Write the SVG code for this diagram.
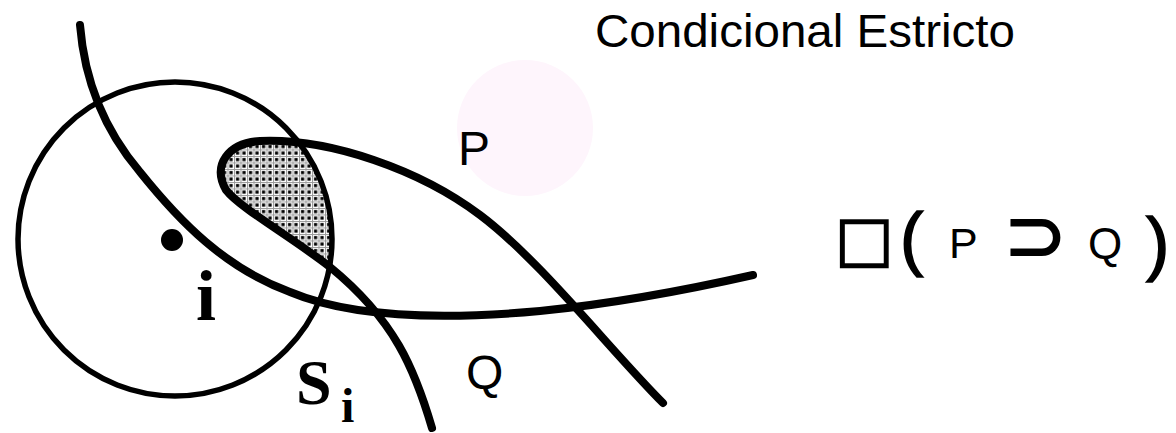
<svg xmlns="http://www.w3.org/2000/svg" width="1176" height="433" viewBox="0 0 1176 433">
<style>
.ln{fill:none;stroke:#000;stroke-linecap:round;stroke-linejoin:round}
.sans{font-family:"Liberation Sans",Arial,sans-serif;fill:#000}
.serif{font-family:"Liberation Serif","Times New Roman",serif;font-weight:bold;fill:#000}
.sym{font-family:"DejaVu Sans",sans-serif;fill:#000}
</style>
<defs>
<pattern id="dots" patternUnits="userSpaceOnUse" width="6.5" height="6.5">
<rect width="6.5" height="6.5" fill="#fff"/>
<path d="M0 0.5H6.5M0.5 0V6.5" stroke="#999" stroke-width="1"/>
<rect x="2" y="2" width="3.2" height="3.2" fill="#000"/>
</pattern>
<clipPath id="circClip"><circle cx="175" cy="239" r="157"/></clipPath>
</defs>
<rect width="1176" height="433" fill="#fff"/>
<circle id="pinkSpot" cx="525" cy="128" r="68" fill="#fef5fc"/>
<g id="shaded" clip-path="url(#circClip)">
<path d="M330 267C290 236 240 208 226 190C212 165 228 143 260 141C330 138 420 170 480 215L480 267Z" fill="url(#dots)"/>
</g>
<g id="connectors">
<circle id="circleS" cx="175" cy="239" r="157" class="ln" stroke-width="5.5"/>
<path id="curveA" class="ln" stroke-width="8" d="M80 25C84 75 100 125 140 172C180 222 225 268 290 292C340 313 420 322 540 311C620 303 700 287 753 275"/>
<path id="curveB" class="ln" stroke-width="8" d="M432 428C415 370 395 320 330 267C290 236 240 208 226 190C212 165 228 143 260 141C330 138 420 170 480 215C540 260 610 350 663 403"/>
</g>
<g id="point-i">
<circle cx="172" cy="240" r="11" fill="#000"/>
<text class="serif" x="196" y="320" font-size="72">i</text>
</g>
<g id="label-S">
<text class="serif" x="296" y="404" font-size="64">S</text>
<text class="serif" x="341" y="422" font-size="48">i</text>
</g>
<g id="label-P"><text class="sans" x="458" y="165" font-size="48">P</text></g>
<g id="label-Q"><text class="sans" x="466" y="389" font-size="48">Q</text></g>
<g id="title"><text class="sans" x="595" y="47" font-size="46.5" textLength="420" lengthAdjust="spacingAndGlyphs">Condicional Estricto</text></g>
<g id="formula">
<text class="sym" x="835" y="260" font-size="62" stroke="#000" stroke-width="1.5">□</text>
<text class="sans" x="900" y="262" font-size="70" stroke="#000" stroke-width="1.5">(</text>
<text class="sans" x="949" y="258" font-size="43">P</text>
<text class="sym" x="1004" y="261" font-size="75" stroke="#000" stroke-width="2">⊃</text>
<text class="sans" x="1088" y="259" font-size="44">Q</text>
<text class="sans" x="1146" y="267" font-size="70" stroke="#000" stroke-width="1.5">)</text>
</g>
</svg>
